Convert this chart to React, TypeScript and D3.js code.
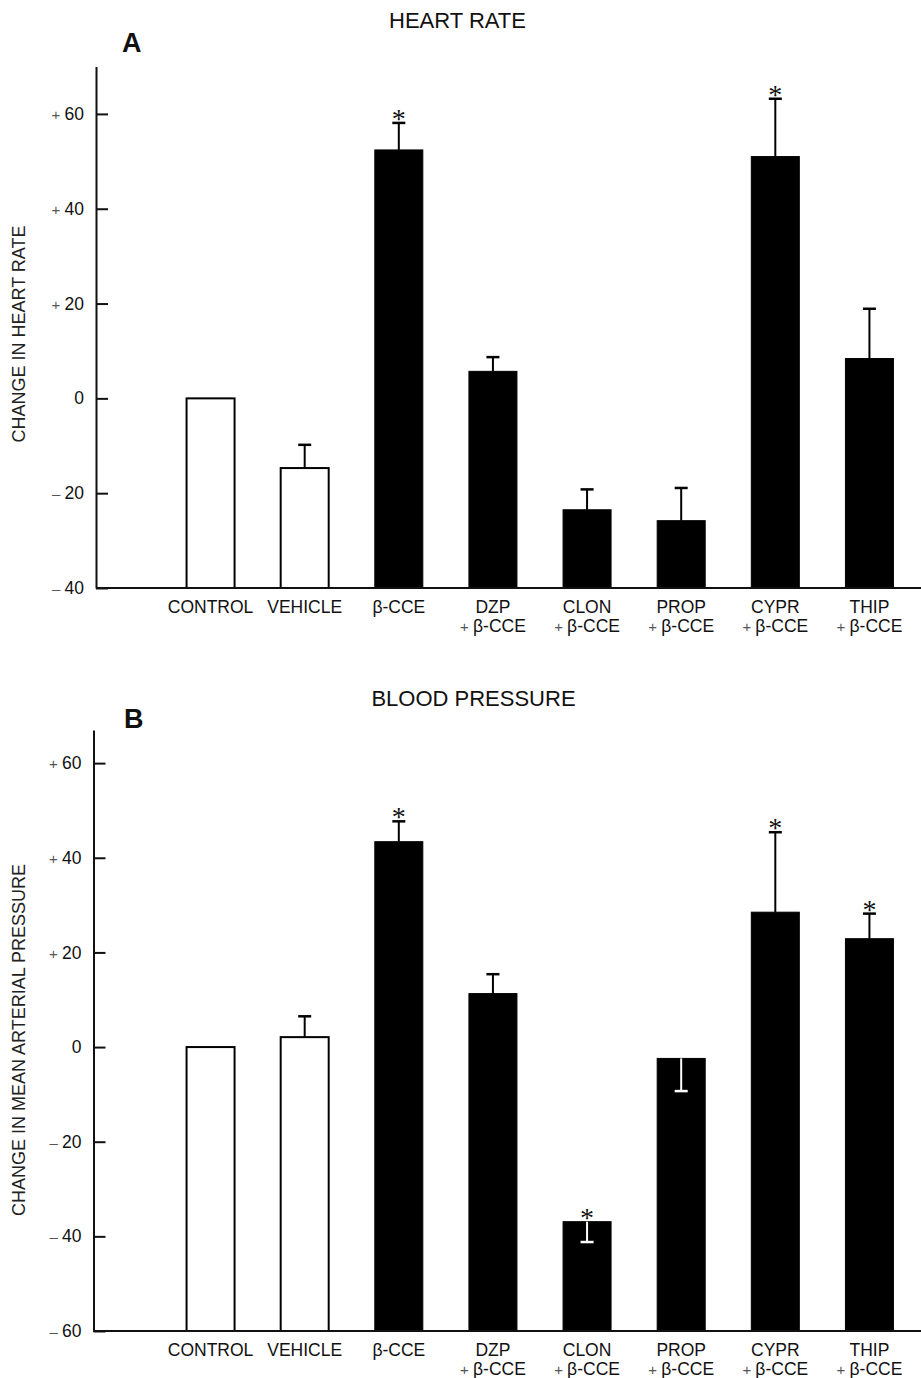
import React, { useEffect, useRef } from 'react';
import * as d3 from 'd3';

// groups along the x axis
const categories = ['CONTROL', 'VEHICLE', 'β-CCE', 'DZP', 'CLON', 'PROP', 'CYPR', 'THIP'];
const secondLine = ['', '', '', 'β-CCE', 'β-CCE', 'β-CCE', 'β-CCE', 'β-CCE'];
const openBars = ['CONTROL', 'VEHICLE'];

// panel A: change in heart rate (mean, SEM signed by the side it is drawn on)
const heartRate = [0, -14.7, 52.4, 5.7, -23.5, -25.8, 51.0, 8.4];
const heartRateErr = [0, 4.9, 5.7, 3.0, 4.3, 6.9, 12.2, 10.5];
const heartRateSig = [false, false, true, false, false, false, true, false];
const heartTicks = [-40, -20, 0, 20, 40, 60];

// panel B: change in mean arterial pressure
const pressure = [0, 2.1, 43.4, 11.3, -36.9, -2.4, 28.5, 22.9];
const pressureErr = [0, 4.4, 4.3, 4.1, -4.3, -6.9, 16.9, 5.3];
const pressureSig = [false, false, true, false, true, false, true, true];
const pressureTicks = [-60, -40, -20, 0, 20, 40, 60];

const SANS = '"Liberation Sans", Arial, Helvetica, sans-serif';
const INK = '#111';
const SIGN = '#555';

const drawPanel = (svg, p) => {
  const g = svg.append('g');

  const x = d3.scaleBand()
    .domain(categories)
    .range([163.5, 916.5])
    .paddingInner(0.49)
    .paddingOuter(0.245);

  const y = d3.scaleLinear()
    .domain(p.domain)
    .range(p.range);

  const base = y(p.domain[0]);

  // title and panel letter
  g.append('text')
    .attr('x', p.titleX)
    .attr('y', p.titleY)
    .attr('text-anchor', 'middle')
    .style('font-family', SANS)
    .style('font-size', '22px')
    .style('fill', INK)
    .text(p.title);

  g.append('text')
    .attr('x', p.letterX)
    .attr('y', p.letterY)
    .style('font-family', SANS)
    .style('font-size', '27px')
    .style('font-weight', 'bold')
    .style('fill', INK)
    .text(p.letter);

  // y axis, ticks pointing into the plot
  const yAxis = g.append('g')
    .attr('transform', `translate(${p.axisX},0)`)
    .call(d3.axisLeft(y)
      .tickValues(p.ticks)
      .tickSizeInner(-12)
      .tickSizeOuter(0)
      .tickPadding(12));

  yAxis.select('.domain').attr('stroke', INK).attr('stroke-width', 2);
  yAxis.selectAll('.tick line').attr('stroke', INK).attr('stroke-width', 2);
  yAxis.selectAll('.tick text')
    .attr('fill', INK)
    .style('font-family', SANS)
    .style('font-size', '17.5px')
    .each(function (d) {
      const t = d3.select(this);
      t.text(null);
      if (d !== 0) {
        t.append('tspan')
          .style('font-size', '15px')
          .style('fill', SIGN)
          .text(d > 0 ? '+ ' : '\u2013 ');
      }
      t.append('tspan').text(Math.abs(d));
    });

  // y axis title
  g.append('text')
    .attr('transform', `translate(${p.yLabelX},${p.yLabelY}) rotate(-90)`)
    .attr('text-anchor', 'middle')
    .attr('dominant-baseline', 'central')
    .style('font-family', SANS)
    .style('font-size', '18px')
    .style('fill', '#222')
    .text(p.yLabel);

  // bars rise from the bottom of the axis
  const rows = categories.map((c, i) => ({
    c, v: p.values[i], e: p.errors[i], sig: p.sig[i], open: openBars.includes(c)
  }));

  g.selectAll('.bar')
    .data(rows)
    .enter().append('rect')
    .attr('class', 'bar')
    .attr('x', d => x(d.c))
    .attr('y', d => y(d.v))
    .attr('width', x.bandwidth())
    .attr('height', d => base - y(d.v))
    .attr('fill', d => d.open ? '#fff' : '#000')
    .attr('stroke', '#000')
    .attr('stroke-width', d => d.open ? 2 : 1);

  // error bars: black above the bar, white when drawn down into a solid bar
  const capW = 13;
  const errs = g.selectAll('.err')
    .data(rows.filter(d => d.e !== 0))
    .enter().append('g')
    .attr('class', 'err')
    .attr('stroke', d => d.e < 0 && !d.open ? '#fff' : '#000');

  errs.append('line')
    .attr('x1', d => x(d.c) + x.bandwidth() / 2)
    .attr('x2', d => x(d.c) + x.bandwidth() / 2)
    .attr('y1', d => y(d.v))
    .attr('y2', d => y(d.v + d.e))
    .attr('stroke-width', 2);

  errs.append('line')
    .attr('x1', d => x(d.c) + x.bandwidth() / 2 - capW / 2)
    .attr('x2', d => x(d.c) + x.bandwidth() / 2 + capW / 2)
    .attr('y1', d => y(d.v + d.e))
    .attr('y2', d => y(d.v + d.e))
    .attr('stroke-width', 2.5);

  // significance marks
  g.selectAll('.sig')
    .data(rows.filter(d => d.sig))
    .enter().append('text')
    .attr('class', 'sig')
    .attr('x', d => x(d.c) + x.bandwidth() / 2)
    .attr('y', d => Math.min(y(d.v), y(d.v + Math.max(d.e, 0))) + 5)
    .attr('text-anchor', 'middle')
    .style('font-family', '"Liberation Serif", "Times New Roman", serif')
    .style('font-size', '28px')
    .style('fill', INK)
    .text('*');

  // x axis line runs off the right edge
  g.append('line')
    .attr('x1', p.axisX)
    .attr('x2', 921)
    .attr('y1', base)
    .attr('y2', base)
    .attr('stroke', INK)
    .attr('stroke-width', 2);

  // category labels
  const labels = g.selectAll('.cat')
    .data(rows)
    .enter().append('text')
    .attr('class', 'cat')
    .attr('x', d => x(d.c) + x.bandwidth() / 2)
    .attr('y', base + 25)
    .attr('text-anchor', 'middle')
    .style('font-family', SANS)
    .style('font-size', '17.5px')
    .style('fill', INK);

  labels.append('tspan').text(d => d.c);

  labels.filter((d, i) => secondLine[i] !== '')
    .append('tspan')
    .attr('x', d => x(d.c) + x.bandwidth() / 2)
    .attr('dy', 18.5)
    .call(s => {
      s.append('tspan').style('font-size', '15px').style('fill', SIGN).text('+ ');
      s.append('tspan').text((d) => secondLine[categories.indexOf(d.c)]);
    });
};

const App = () => {
  const svgRef = useRef(null);

  useEffect(() => {
    const svg = d3.select(svgRef.current);
    svg.selectAll('*').remove();

    drawPanel(svg, {
      title: 'HEART RATE', titleX: 457.5, titleY: 28,
      letter: 'A', letterX: 122, letterY: 52,
      axisX: 96, domain: [-40, 70], range: [588, 66.5], ticks: heartTicks,
      yLabel: 'CHANGE IN HEART RATE', yLabelX: 19, yLabelY: 334,
      values: heartRate, errors: heartRateErr, sig: heartRateSig
    });

    drawPanel(svg, {
      title: 'BLOOD PRESSURE', titleX: 473.5, titleY: 706,
      letter: 'B', letterX: 124, letterY: 728,
      axisX: 93.5, domain: [-60, 67], range: [1331, 730], ticks: pressureTicks,
      yLabel: 'CHANGE IN MEAN ARTERIAL PRESSURE', yLabelX: 19, yLabelY: 1040,
      values: pressure, errors: pressureErr, sig: pressureSig
    });
  }, []);

  return (
    <svg
      ref={svgRef}
      width={921}
      height={1378}
      style={{ position: 'absolute', left: 0, top: 0, background: '#fff', display: 'block' }}
    />
  );
};

export default App;
